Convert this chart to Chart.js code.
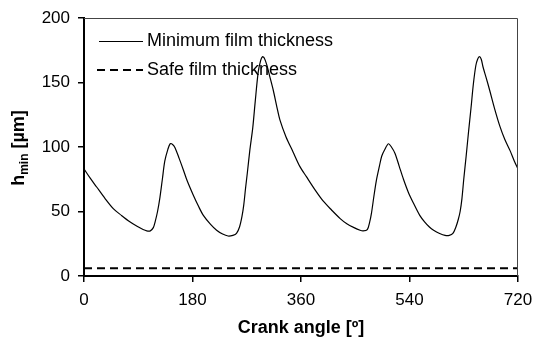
<!DOCTYPE html>
<html>
<head>
<meta charset="utf-8">
<script src="https://cdn.jsdelivr.net/npm/chart.js@4"></script>
<style>
  html, body { margin: 0; padding: 0; background: #fff; }
  #wrap { width: 535px; height: 340px; }
</style>
</head>
<body>
<div id="wrap"><canvas id="chart" width="535" height="340"></canvas></div>
<script>
// crank angle [deg] and minimum film thickness [um]
const angles = [0, 10, 21, 35, 49, 62, 76, 88, 98, 104, 110, 115, 118, 122, 126, 130, 134, 139, 143, 147,
  151, 158, 165, 171, 181, 190, 198, 210, 220, 230, 239, 247, 253, 258, 262, 265, 268, 271, 275, 280,
  284, 289, 293, 296, 299, 303, 308, 314, 320, 325, 335, 347, 358, 369, 383, 397, 411, 425, 436, 448,
  458, 463, 470, 474, 477, 481, 485, 490, 494, 499, 505, 510, 516, 523, 530, 538, 546, 557, 565, 573,
  580, 590, 599, 606, 612, 617, 621, 624, 627, 630, 634, 638, 642, 646, 650, 653, 656, 659, 662, 667,
  673, 681, 690, 698, 707, 714, 720];
const hMin = [83, 76, 69, 60, 52, 47, 42, 38.5, 36, 35, 35, 37.5, 42, 50, 61, 75, 89, 98, 102.5, 102,
  99.5, 91, 82, 74, 63, 54, 47, 40, 35.5, 32.5, 31, 31.5, 33, 38, 46, 55, 68, 80, 97, 115,
  135, 158, 167, 170, 169, 164, 155, 144, 131, 121, 108, 96, 85, 77, 67, 58, 51, 44.5, 40.5, 37.5,
  35.5, 35, 36, 42, 49, 62, 74, 85, 93, 98, 102.5, 100, 95, 85, 75, 65, 57, 47, 42, 38,
  35.5, 33, 31.5, 31.5, 33, 38, 44, 50, 60, 75, 93, 112, 130, 149, 163, 168, 170, 168, 162, 154,
  144, 130, 116, 106, 97, 89, 83];
const safeAngles = [0, 720];
const safeValue = [6, 6];
const xTicks = [0, 180, 360, 540, 720];
const yTicks = [0, 50, 100, 150, 200];
const seriesLabels = ['Minimum film thickness', 'Safe film thickness'];

const FONT = '"Liberation Sans", Arial, sans-serif';

const frame = {
  id: 'frame',
  afterDraw(chart) {
    const c = chart.ctx, a = chart.chartArea;
    c.save();
    // thin frame on top and right
    c.strokeStyle = '#444';
    c.lineWidth = 1;
    c.beginPath();
    c.moveTo(a.left, a.top + 0.5);
    c.lineTo(a.right - 0.5, a.top + 0.5);
    c.lineTo(a.right - 0.5, a.bottom);
    c.stroke();

    // legend inside the plot
    c.font = '18px ' + FONT;
    c.fillStyle = '#000';
    c.textBaseline = 'middle';
    c.strokeStyle = '#000';
    c.lineWidth = 1.2;
    c.beginPath();
    c.moveTo(99, 41.5); c.lineTo(143, 41.5);
    c.stroke();
    c.fillText(chart.data.datasets[0].label, 147, 41);
    c.lineWidth = 2;
    c.setLineDash([8, 5]);
    c.beginPath();
    c.moveTo(97, 70); c.lineTo(143, 70);
    c.stroke();
    c.setLineDash([]);
    c.fillText(chart.data.datasets[1].label, 147, 70);

    // y axis title with subscript
    c.translate(24, 148);
    c.rotate(-Math.PI / 2);
    c.textBaseline = 'alphabetic';
    const p1 = 'h', p2 = 'min', p3 = ' [\u00b5m]';
    c.font = 'bold 18px ' + FONT;
    const w1 = c.measureText(p1).width, w3 = c.measureText(p3).width;
    c.font = 'bold 12px ' + FONT;
    const w2 = c.measureText(p2).width;
    let x = -(w1 + w2 + w3) / 2;
    c.font = 'bold 18px ' + FONT;
    c.fillText(p1, x, 0); x += w1;
    c.font = 'bold 12px ' + FONT;
    c.fillText(p2, x, 4); x += w2;
    c.font = 'bold 18px ' + FONT;
    c.fillText(p3, x, 0);
    c.restore();
  }
};

new Chart(document.getElementById('chart'), {
  type: 'line',
  data: {
    datasets: [
      {
        label: seriesLabels[0],
        data: angles.map((a, i) => ({ x: a, y: hMin[i] })),
        borderColor: '#000',
        borderWidth: 1.2,
        pointRadius: 0,
        tension: 0.3,
        fill: false
      },
      {
        label: seriesLabels[1],
        data: safeAngles.map((a, i) => ({ x: a, y: safeValue[i] })),
        borderColor: '#000',
        borderWidth: 2,
        borderDash: [8, 5],
        pointRadius: 0,
        fill: false
      }
    ]
  },
  options: {
    responsive: false,
    animation: false,
    events: [],
    layout: { padding: { top: 18, right: 17, left: 0, bottom: 0 } },
    plugins: { legend: { display: false }, tooltip: { enabled: false } },
    scales: {
      x: {
        type: 'linear',
        min: 0,
        max: 720,
        afterBuildTicks: s => { s.ticks = xTicks.map(v => ({ value: v })); },
        afterFit: s => { s.height = 64; s.paddingLeft = 0; s.paddingRight = 0; },
        grid: { drawOnChartArea: false, tickLength: 6, color: '#000', lineWidth: 1.5 },
        border: { color: '#000', width: 2 },
        ticks: { color: '#000', font: { family: FONT, size: 17 }, padding: 8, maxRotation: 0 },
        title: { display: true, text: 'Crank angle [\u00ba]', color: '#000', font: { family: FONT, size: 18, weight: 'bold' }, padding: { top: 0, bottom: 1 } }
      },
      y: {
        min: 0,
        max: 200,
        afterBuildTicks: s => { s.ticks = yTicks.map(v => ({ value: v })); },
        afterFit: s => { s.width = 84; s.paddingTop = 0; s.paddingBottom = 0; },
        grid: { drawOnChartArea: false, tickLength: 6, color: '#000', lineWidth: 1.5 },
        border: { color: '#000', width: 2 },
        ticks: { color: '#000', font: { family: FONT, size: 17 }, padding: 8 }
      }
    }
  },
  plugins: [frame]
});
</script>
</body>
</html>
